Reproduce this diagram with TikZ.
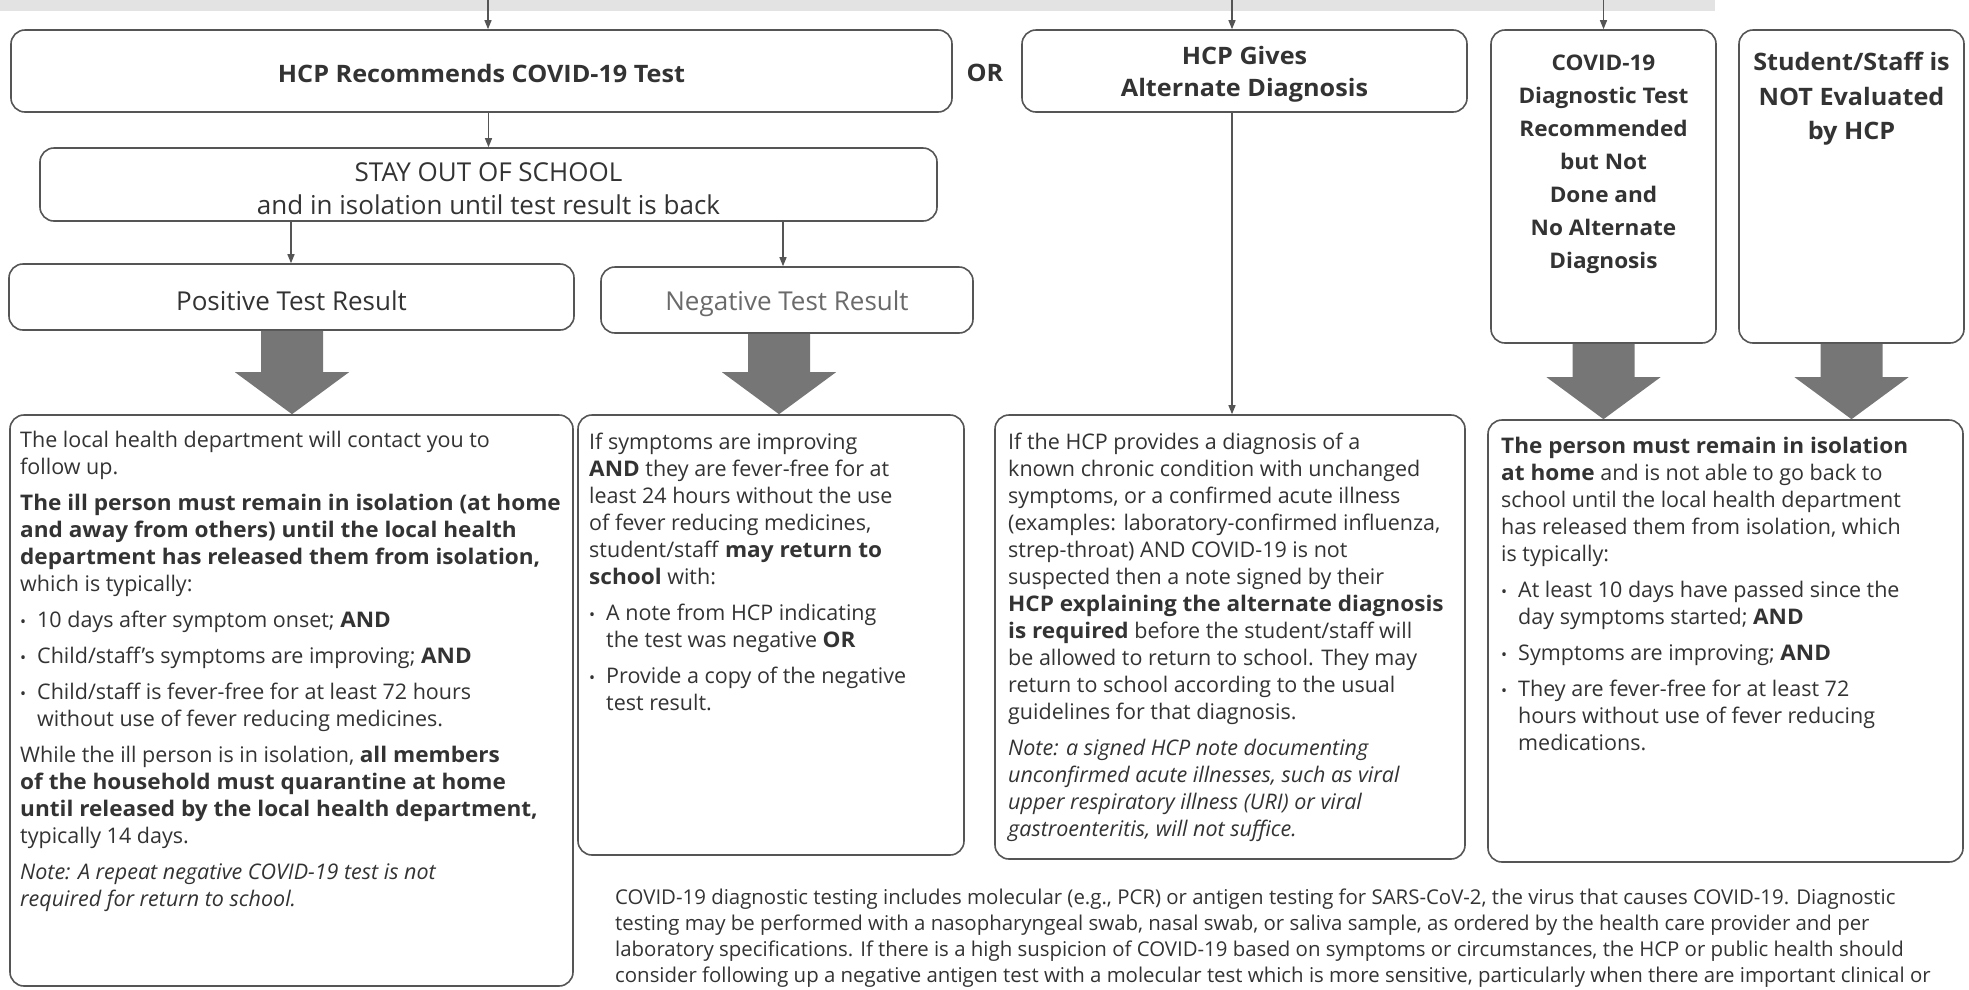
\documentclass[tikz,border=0pt]{standalone}
\usepackage{fontspec}
\setmainfont{Open Sans}[BoldFeatures={FakeStretch=1.05}]
\usetikzlibrary{arrows.meta,calc}
\definecolor{txt}{HTML}{333333}
\definecolor{ln}{HTML}{555555}
\definecolor{blk}{HTML}{767676}
\definecolor{band}{HTML}{E3E3E3}
\definecolor{neggray}{HTML}{6A6A6A}
\newcommand\bul[1]{\makebox[17pt][l]{{\fontsize{16}{16}\selectfont •}}#1}
\newcommand\cont{\hspace*{17pt}}
\newcommand\bigarrow[3]{%
  \path let \p1=(#2.south), \p2=(#3.north), \p3=(#1,0) in
    [fill=blk] (\x3-31pt,\y1) -- (\x3+31pt,\y1) -- (\x3+31pt,\y2+42pt) -- (\x3+57pt,\y2+42pt)
    -- (\x3,\y2) -- (\x3-57pt,\y2+42pt) -- (\x3-31pt,\y2+42pt) -- cycle;}
\begin{document}
\begin{tikzpicture}[x=1pt,y=-1pt,
  box/.style={draw=ln, line width=1.6pt, rounded corners=14pt, inner sep=0pt, fill=white},
  ttl/.style={font=\fontsize{24}{32}\selectfont\bfseries, text=txt, align=center, inner sep=0pt},
  ttlsm/.style={font=\fontsize{21.5}{33.1}\selectfont\bfseries, text=txt, align=center, inner sep=0pt},
  plain/.style={font=\fontsize{26}{33}\selectfont, text=txt, align=center, inner sep=0pt},
  body/.style={font=\fontsize{21.5}{27}\selectfont, text=txt, align=left, inner sep=0pt, anchor=north west},
  foot/.style={font=\fontsize{20.4}{26}\selectfont, text=txt, align=left, inner sep=0pt, anchor=north west},
  conn/.style={draw=ln, line width=1.3pt, -{Triangle[length=9pt,width=7pt]}}]
\useasboundingbox (0,0) rectangle (1969,989);
\fill[band] (0,0) rectangle (1715,11);
% top row boxes
\node[box, minimum width=941pt, minimum height=82pt] (b1) at (481.5,71) {};
\node[box, minimum width=445pt, minimum height=82pt] (b2) at (1244.5,71) {};
\node[box, minimum width=225pt, minimum height=313pt] (b3) at (1603.5,186.5) {};
\node[box, minimum width=225pt, minimum height=313pt] (b4) at (1851.5,186.5) {};
\node[ttl] (b1t) at (481.5,73) {HCP Recommends COVID-19 Test};
\node[ttl] (ort) at (985,73) {OR};
\node[ttl, anchor=north] (b2t) at (1244.5,46.5) {HCP Gives\\Alternate Diagnosis};
\node[ttlsm, anchor=north] (b3t) at (1603.5,54.5) {COVID-19\\Diagnostic Test\\Recommended\\but Not\\Done and\\No Alternate\\Diagnosis};
\node[ttl, anchor=north, font=\fontsize{24}{34.5}\selectfont\bfseries] (b4t) at (1851.5,52) {Student/Staff is\\NOT Evaluated\\by HCP};
% second row
\node[box, minimum width=897pt, minimum height=73pt] (stay) at (488.5,184.5) {};
\node[plain, anchor=north] (stayt) at (488.5,162) {STAY OUT OF SCHOOL\\and in isolation until test result is back};
\node[box, minimum width=565pt, minimum height=66pt] (pos) at (291.5,297) {};
\node[plain] (post) at (291.5,301) {Positive Test Result};
\node[box, minimum width=372pt, minimum height=66pt] (neg) at (787,300) {};
\node[plain, text=neggray] (negt) at (787,304) {Negative Test Result};
% content boxes
\node[box, minimum width=563pt, minimum height=571pt] (A) at (291.5,700.5) {};
\node[box, minimum width=386pt, minimum height=440pt] (B) at (771,635) {};
\node[box, minimum width=470pt, minimum height=444pt] (C) at (1230,637) {};
\node[box, minimum width=475pt, minimum height=442pt] (D) at (1725.5,641) {};
\node[body] (At) at (20,431) {The local health department will contact you to\\follow up.\\[9pt]
\textbf{The ill person must remain in isolation (at home}\\\textbf{and away from others) until the local health}\\\textbf{department has released them from isolation,}\\which is typically:\\[9pt]
\bul{10 days after symptom onset; \textbf{AND}}\\[9pt]
\bul{Child/staff’s symptoms are improving; \textbf{AND}}\\[9pt]
\bul{Child/staff is fever-free for at least 72 hours}\\\cont without use of fever reducing medicines.\\[9pt]
While the ill person is in isolation, \textbf{all members}\\\textbf{of the household must quarantine at home}\\\textbf{until released by the local health department,}\\typically 14 days.\\[9pt]
\textit{Note: A repeat negative COVID-19 test is not}\\\textit{required for return to school.}};
\node[body] (Bt) at (589,432.5) {If symptoms are improving\\\textbf{AND} they are fever-free for at\\least 24 hours without the use\\of fever reducing medicines,\\student/staff \textbf{may return to}\\\textbf{school} with:\\[9pt]
\bul{A note from HCP indicating}\\\cont the test was negative \textbf{OR}\\[9pt]
\bul{Provide a copy of the negative}\\\cont test result.};
\node[body] (Ct) at (1008,433) {If the HCP provides a diagnosis of a\\known chronic condition with unchanged\\symptoms, or a confirmed acute illness\\(examples: laboratory-confirmed influenza,\\strep-throat) AND COVID-19 is not\\suspected then a note signed by their\\\textbf{HCP explaining the alternate diagnosis}\\\textbf{is required} before the student/staff will\\be allowed to return to school. They may\\return to school according to the usual\\guidelines for that diagnosis.\\[9pt]
\textit{Note: a signed HCP note documenting}\\\textit{unconfirmed acute illnesses, such as viral}\\\textit{upper respiratory illness (URI) or viral}\\\textit{gastroenteritis, will not suffice.}};
\node[body] (Dt) at (1501,437) {\textbf{The person must remain in isolation}\\\textbf{at home} and is not able to go back to\\school until the local health department\\has released them from isolation, which\\is typically:\\[9pt]
\bul{At least 10 days have passed since the}\\\cont day symptoms started; \textbf{AND}\\[9pt]
\bul{Symptoms are improving; \textbf{AND}}\\[9pt]
\bul{They are fever-free for at least 72}\\\cont hours without use of fever reducing\\\cont medications.};
\node[foot] (ft) at (615,888.5) {COVID-19 diagnostic testing includes molecular (e.g., PCR) or antigen testing for SARS-CoV-2, the virus that causes COVID-19. Diagnostic\\testing may be performed with a nasopharyngeal swab, nasal swab, or saliva sample, as ordered by the health care provider and per\\laboratory specifications. If there is a high suspicion of COVID-19 based on symptoms or circumstances, the HCP or public health should\\consider following up a negative antigen test with a molecular test which is more sensitive, particularly when there are important clinical or};
% thin connectors
\coordinate (t1) at (488,0);
\coordinate (t2) at (1232,0);
\coordinate (t3) at (1603.5,0);
\draw[conn] (t1) -- (t1 |- b1.north);
\draw[conn] (t2) -- (t2 |- b2.north);
\draw[conn] (t3) -- (b3.north);
\draw[conn] (stay.north |- b1.south) -- (stay.north);
\draw[conn] (291,0 |- stay.south) -- (291,0 |- pos.north);
\draw[conn] (783,0 |- stay.south) -- (783,0 |- neg.north);
\draw[conn] (1232,0 |- b2.south) -- (1232,0 |- C.north);
% block arrows
\bigarrow{292}{pos}{A}
\bigarrow{779}{neg}{B}
\bigarrow{1603.5}{b3}{D}
\bigarrow{1851.5}{b4}{D}
\end{tikzpicture}
\end{document}
